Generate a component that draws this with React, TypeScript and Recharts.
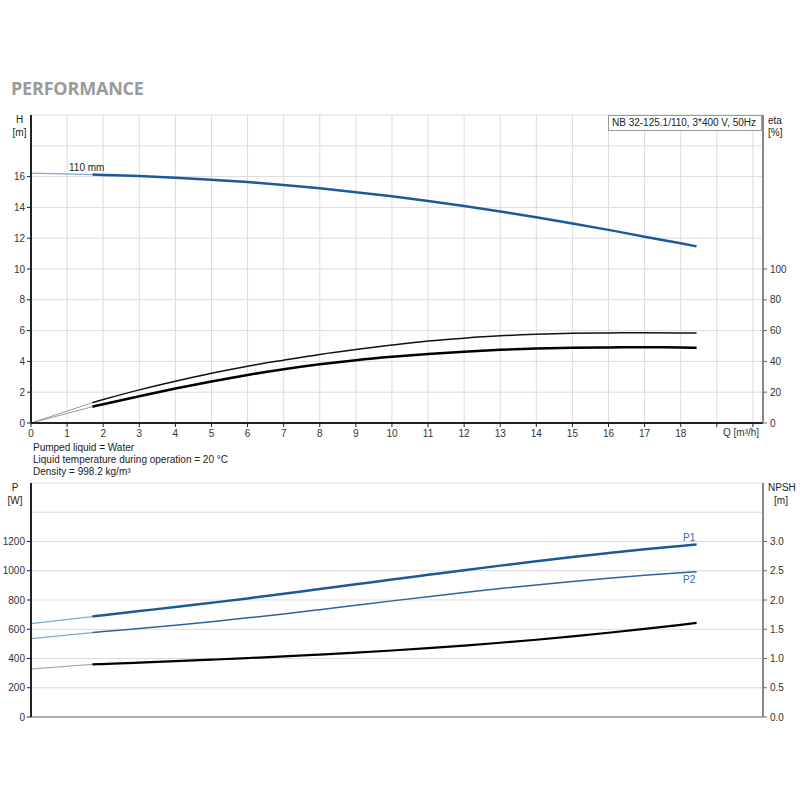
import React from 'react';
import { ComposedChart, Line, XAxis, YAxis, CartesianGrid } from 'recharts';

// ---- data ----
const flowStart = [0, 1.7];
const flowMain = [1.7, 2, 3, 4, 5, 6, 7, 8, 9, 10, 11, 12, 13, 14, 15, 16, 17, 18, 18.44];

const headStart = [16.22, 16.13];
const headMain = [16.13, 16.11, 16.04, 15.93, 15.8, 15.65, 15.46, 15.24, 14.99, 14.72, 14.42, 14.09, 13.74, 13.36, 12.96, 12.54, 12.1, 11.67, 11.47];

const etaPumpStart = [0, 13.2];
const etaPumpMain = [13.2, 15.2, 21.5, 27.1, 32.3, 36.9, 40.8, 44.5, 47.7, 50.6, 53.2, 55.1, 56.6, 57.6, 58.2, 58.5, 58.6, 58.5, 58.4];

const etaTotalStart = [0, 10.6];
const etaTotalMain = [10.6, 12.2, 17.4, 22.4, 27.0, 31.2, 34.9, 38.1, 40.8, 43.0, 44.8, 46.3, 47.5, 48.3, 48.8, 49.1, 49.2, 49.0, 48.9];

const p1Start = [639, 687];
const p1Main = [687, 696, 724, 752, 781, 811, 843, 875, 907, 940, 972, 1004, 1035, 1065, 1094, 1121, 1147, 1170, 1180];

const p2Start = [536, 577];
const p2Main = [577, 584, 605, 628, 652, 678, 705, 734, 764, 794, 823, 851, 878, 903, 927, 949, 969, 987, 994];

const npshStart = [0.82, 0.9];
const npshMain = [0.9, 0.905, 0.93, 0.955, 0.98, 1.007, 1.036, 1.067, 1.1, 1.137, 1.177, 1.221, 1.269, 1.321, 1.378, 1.44, 1.506, 1.576, 1.608];

const qTicks = [0, 1, 2, 3, 4, 5, 6, 7, 8, 9, 10, 11, 12, 13, 14, 15, 16, 17, 18, 19, 20];
const qLabelMax = 18;
const hTicks = [0, 2, 4, 6, 8, 10, 12, 14, 16, 18, 20];
const hLabelMax = 16;
const etaTicks = [0, 20, 40, 60, 80, 100, 120, 140, 160, 180, 200];
const etaLabelMax = 100;
const pTicks = [0, 200, 400, 600, 800, 1000, 1200, 1400, 1600];
const pLabelMax = 1200;
const npshTicks = [0, 0.5, 1, 1.5, 2, 2.5, 3, 3.5, 4];
const npshLabelMax = 3;

const titleText = 'PERFORMANCE';
const pumpText = 'NB 32-125.1/110, 3*400 V, 50Hz';
const notes = ['Pumped liquid = Water', 'Liquid temperature during operation = 20 °C', 'Density = 998.2 kg/m³'];

const zip = (qs: number[], vs: number[]) => qs.map((q, i) => ({ q, v: vs[i] }));

const FONT = '"Liberation Sans", Arial, sans-serif';
const BLUE = '#1b5a98';
const BLUE_LIGHT = '#86a8cc';
const GREY_LIGHT = '#9a9a9a';
const TICK_COLOR = '#333';

const XTick = (props: any) => {
  const { x, y, payload } = props;
  const v = payload.value;
  return (
    <g>
      <line x1={x} x2={x} y1={y} y2={y + 4} stroke="#222" strokeWidth={1} />
      {v <= qLabelMax && (
        <text x={x} y={y + 14} textAnchor="middle" fontSize={10} fontFamily={FONT} fill={TICK_COLOR}>
          {v}
        </text>
      )}
    </g>
  );
};

const makeLeftTick = (max: number) => (props: any) => {
  const { x, y, payload } = props;
  const v = payload.value;
  if (v > max) return <g />;
  return (
    <g>
      <line x1={x - 4} x2={x} y1={y} y2={y} stroke="#222" strokeWidth={1} />
      <text x={x - 6} y={y + 3.6} textAnchor="end" fontSize={10} fontFamily={FONT} fill={TICK_COLOR}>
        {v}
      </text>
    </g>
  );
};

const makeRightTick = (max: number, digits: number) => (props: any) => {
  const { x, y, payload } = props;
  const v = payload.value;
  if (v > max) return <g />;
  return (
    <g>
      <line x1={x} x2={x + 4} y1={y} y2={y} stroke="#666" strokeWidth={1} />
      <text x={x + 7} y={y + 3.6} textAnchor="start" fontSize={10} fontFamily={FONT} fill={TICK_COLOR}>
        {digits > 0 ? v.toFixed(digits) : v}
      </text>
    </g>
  );
};

const Txt = ({ x, y, children, anchor = 'start', size = 10, color = '#222', style = {} }: any) => {
  const tx = anchor === 'middle' ? 'translateX(-50%)' : anchor === 'end' ? 'translateX(-100%)' : 'none';
  return (
    <div
      style={{
        position: 'absolute',
        left: x,
        top: y - 6,
        height: 12,
        lineHeight: '12px',
        fontSize: size,
        fontFamily: FONT,
        color,
        whiteSpace: 'nowrap',
        transform: tx,
        ...style,
      }}
    >
      {children}
    </div>
  );
};

const LeftTickH = makeLeftTick(hLabelMax);
const RightTickEta = makeRightTick(etaLabelMax, 0);
const LeftTickP = makeLeftTick(pLabelMax);
const RightTickNpsh = makeRightTick(npshLabelMax, 1);

export default function App() {
  return (
    <div style={{ position: 'absolute', left: 0, top: 0, width: 800, height: 800, background: '#fff', overflow: 'hidden' }}>
      <div
        style={{
          position: 'absolute',
          left: 11,
          top: 75,
          fontFamily: '"Open Sans", sans-serif',
          fontWeight: 700,
          fontSize: 18,
          lineHeight: '26px',
          color: '#9a9a9a',
          letterSpacing: -0.2,
        }}
      >
        {titleText}
      </div>

      {/* top chart */}
      <div style={{ position: 'absolute', left: 0, top: 0 }}>
        <ComposedChart width={800} height={445} margin={{ top: 115, right: 0, bottom: 0, left: 0 }}>
          <CartesianGrid stroke="#dcdcdc" strokeWidth={1} yAxisId="h" />
          <XAxis
            dataKey="q"
            type="number"
            domain={[0, 20.28]}
            ticks={qTicks}
            allowDataOverflow
            height={22}
            tickSize={0}
            tickMargin={0}
            tickLine={false}
            tick={<XTick />}
            axisLine={{ stroke: '#222', strokeWidth: 2 }}
            interval={0}
          />
          <YAxis
            yAxisId="h"
            type="number"
            domain={[0, 20]}
            ticks={hTicks}
            width={31}
            tickSize={0}
            tickMargin={0}
            tickLine={false}
            tick={<LeftTickH />}
            axisLine={{ stroke: '#222', strokeWidth: 2 }}
            interval={0}
          />
          <YAxis
            yAxisId="eta"
            orientation="right"
            type="number"
            domain={[0, 200]}
            ticks={etaTicks}
            width={37}
            tickSize={0}
            tickMargin={0}
            tickLine={false}
            tick={<RightTickEta />}
            axisLine={{ stroke: '#888', strokeWidth: 2 }}
            interval={0}
          />
          <Line yAxisId="h" data={zip(flowStart, headStart)} dataKey="v" type="monotone" stroke={BLUE_LIGHT} strokeWidth={1.3} dot={false} isAnimationActive={false} />
          <Line yAxisId="h" data={zip(flowMain, headMain)} dataKey="v" type="monotone" stroke={BLUE} strokeWidth={2.5} dot={false} isAnimationActive={false} />
          <Line yAxisId="eta" data={zip(flowStart, etaPumpStart)} dataKey="v" type="linear" stroke={GREY_LIGHT} strokeWidth={1} dot={false} isAnimationActive={false} />
          <Line yAxisId="eta" data={zip(flowMain, etaPumpMain)} dataKey="v" type="monotone" stroke="#111" strokeWidth={1.5} dot={false} isAnimationActive={false} />
          <Line yAxisId="eta" data={zip(flowStart, etaTotalStart)} dataKey="v" type="linear" stroke={GREY_LIGHT} strokeWidth={1} dot={false} isAnimationActive={false} />
          <Line yAxisId="eta" data={zip(flowMain, etaTotalMain)} dataKey="v" type="monotone" stroke="#000" strokeWidth={2.5} dot={false} isAnimationActive={false} />
        </ComposedChart>
      </div>

      {/* bottom chart */}
      <div style={{ position: 'absolute', left: 0, top: 470 }}>
        <ComposedChart width={800} height={260} margin={{ top: 13, right: 0, bottom: 0, left: 0 }}>
          <CartesianGrid stroke="#dcdcdc" strokeWidth={1} yAxisId="p" />
          <XAxis
            dataKey="q"
            type="number"
            domain={[0, 20.28]}
            ticks={qTicks}
            allowDataOverflow
            height={13}
            tick={false}
            tickLine={false}
            axisLine={{ stroke: '#9a9a9a', strokeWidth: 1.5 }}
            interval={0}
          />
          <YAxis
            yAxisId="p"
            type="number"
            domain={[0, 1600]}
            ticks={pTicks}
            width={31}
            tickSize={0}
            tickMargin={0}
            tickLine={false}
            tick={<LeftTickP />}
            axisLine={{ stroke: '#222', strokeWidth: 2 }}
            interval={0}
          />
          <YAxis
            yAxisId="npsh"
            orientation="right"
            type="number"
            domain={[0, 4]}
            ticks={npshTicks}
            width={37}
            tickSize={0}
            tickMargin={0}
            tickLine={false}
            tick={<RightTickNpsh />}
            axisLine={{ stroke: '#888', strokeWidth: 2 }}
            interval={0}
          />
          <Line yAxisId="p" data={zip(flowStart, p1Start)} dataKey="v" type="linear" stroke={BLUE_LIGHT} strokeWidth={1.3} dot={false} isAnimationActive={false} />
          <Line yAxisId="p" data={zip(flowMain, p1Main)} dataKey="v" type="monotone" stroke={BLUE} strokeWidth={2.5} dot={false} isAnimationActive={false} />
          <Line yAxisId="p" data={zip(flowStart, p2Start)} dataKey="v" type="linear" stroke={BLUE_LIGHT} strokeWidth={1.1} dot={false} isAnimationActive={false} />
          <Line yAxisId="p" data={zip(flowMain, p2Main)} dataKey="v" type="monotone" stroke="#2b64a0" strokeWidth={1.5} dot={false} isAnimationActive={false} />
          <Line yAxisId="npsh" data={zip(flowStart, npshStart)} dataKey="v" type="linear" stroke={GREY_LIGHT} strokeWidth={1} dot={false} isAnimationActive={false} />
          <Line yAxisId="npsh" data={zip(flowMain, npshMain)} dataKey="v" type="monotone" stroke="#000" strokeWidth={2.2} dot={false} isAnimationActive={false} />
        </ComposedChart>
      </div>

      {/* axis titles and labels */}
      <Txt x={19.5} y={120} anchor="middle">H</Txt>
      <Txt x={19.5} y={132.5} anchor="middle">[m]</Txt>
      <Txt x={768} y={120.5}>eta</Txt>
      <Txt x={768} y={133}>[%]</Txt>
      <div
        style={{
          position: 'absolute',
          left: 608,
          top: 115,
          width: 154,
          height: 16,
          boxSizing: 'border-box',
          border: '1px solid #9a9a9a',
          background: '#fff',
          fontFamily: FONT,
          fontSize: 10,
          lineHeight: '14px',
          color: '#222',
          paddingLeft: 3,
          whiteSpace: 'nowrap',
        }}
      >
        {pumpText}
      </div>
      <Txt x={69} y={168}>110 mm</Txt>
      <Txt x={723} y={433} color={TICK_COLOR}>Q [m³/h]</Txt>
      {notes.map((n, i) => (
        <Txt key={n} x={33} y={447.5 + i * 12.2}>{n}</Txt>
      ))}
      <Txt x={15} y={488} anchor="middle">P</Txt>
      <Txt x={15} y={500.5} anchor="middle">[W]</Txt>
      <Txt x={768} y={488}>NPSH</Txt>
      <Txt x={781} y={500.5} anchor="middle">[m]</Txt>
      <Txt x={683} y={538} color="#2b6cb0">P1</Txt>
      <Txt x={683} y={580} color="#2b6cb0">P2</Txt>
    </div>
  );
}
